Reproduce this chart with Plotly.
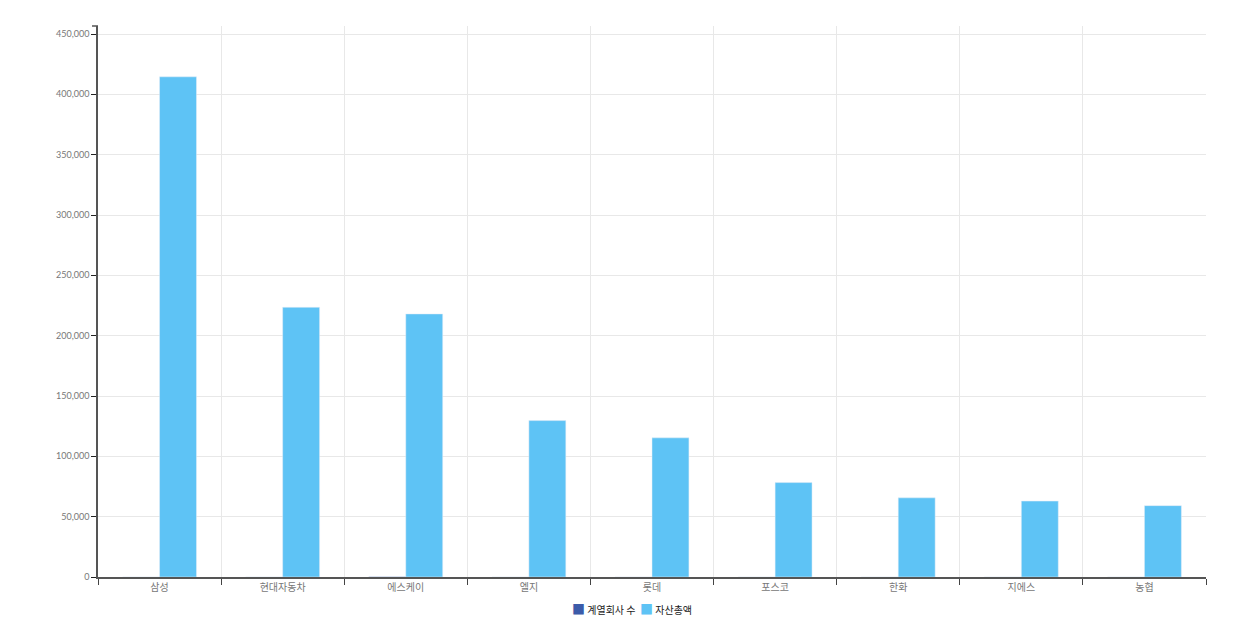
import plotly.graph_objects as go

categories = ["삼성", "현대자동차", "에스케이", "엘지", "롯데", "포스코", "한화", "지에스", "농협"]
affiliates = [59, 53, 111, 75, 95, 35, 75, 64, 45]
assets = [414514, 223505, 218013, 129616, 115317, 78249, 65598, 62921, 59146]
y_ticks = [0, 50000, 100000, 150000, 200000, 250000, 300000, 350000, 400000, 450000]
series_names = ["계열회사 수", "자산총액"]
series_colors = ["#3C5BA9", "#5EC3F5"]

fig = go.Figure()
fig.add_trace(go.Bar(name=series_names[0], x=categories, y=affiliates, marker_color=series_colors[0]))
fig.add_trace(go.Bar(name=series_names[1], x=categories, y=assets, marker_color=series_colors[1]))

fig.update_layout(
    width=1231, height=624,
    margin=dict(l=90, r=33, t=18, b=55, autoexpand=False),
    paper_bgcolor="white", plot_bgcolor="white",
    barmode="group", bargap=0.4, bargroupgap=0,
    font=dict(family="Noto Sans CJK KR, Lato, sans-serif"),
    showlegend=False,
)
legend_text = (
    f"<span style='color:{series_colors[0]};font-size:13px'>■</span> {series_names[0]}  "
    f"<span style='color:{series_colors[1]};font-size:13px'>■</span> {series_names[1]}"
)
fig.add_annotation(text=legend_text, xref="paper", yref="paper", x=0.482, xanchor="center",
                   y=-0.057, yanchor="middle", showarrow=False,
                   font=dict(size=10, color="#222", family="Noto Sans CJK KR"))
fig.update_xaxes(
    type="category", tickson="boundaries", ticks="outside", ticklen=6, tickcolor="#444",
    showline=True, linecolor="#555", linewidth=1.5,
    showgrid=True, gridcolor="#e8e8e8", gridwidth=1, automargin=False,
    tickfont=dict(size=10, color="#777", family="Noto Sans CJK KR"),
)
fig.update_yaxes(
    range=[0, 456630], tickvals=y_ticks, tickformat=",d",
    ticks="outside", ticklen=5, tickcolor="#222",
    showline=True, linecolor="#555", linewidth=1.5, automargin=False,
    showgrid=True, gridcolor="#e8e8e8", gridwidth=1, zeroline=False,
    tickfont=dict(size=9, color="#777", family="Lato"),
)
fig.add_shape(type="line", xref="paper", yref="paper", x0=-0.0054, x1=0, y0=1, y1=1,
              line=dict(color="#555", width=1.5))

fig.write_html("out.html")
